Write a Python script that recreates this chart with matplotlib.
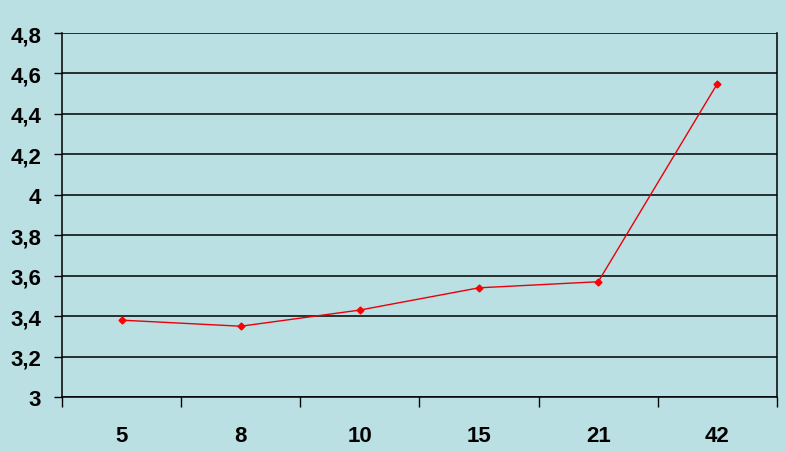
import matplotlib
matplotlib.use("Agg")
import matplotlib.pyplot as plt
from matplotlib.ticker import FixedLocator, FuncFormatter

categories = ["5", "8", "10", "15", "21", "42"]
values = [3.38, 3.35, 3.43, 3.54, 3.57, 4.55]
y_ticks = [3.0, 3.2, 3.4, 3.6, 3.8, 4.0, 4.2, 4.4, 4.6, 4.8]

bg = "#BBE0E3"
plt.rcParams["font.family"] = ["Liberation Sans", "DejaVu Sans"]

fig = plt.figure(figsize=(7.86, 4.52), dpi=100, facecolor=bg)
ax = fig.add_axes([62 / 786, 1 - 398 / 452, 715 / 786, 364 / 452])
ax.set_facecolor(bg)

x = list(range(len(categories)))
ax.plot(x, values, color="#E8000A", lw=1.0, marker="D", ms=3.5,
        mec="#FF0000", mfc="#FF0000", zorder=3)

ax.set_xlim(-0.5, len(categories) - 0.5)
ax.set_ylim(3.0, 4.8)

ax.set_yticks(y_ticks)
ax.yaxis.set_major_formatter(FuncFormatter(
    lambda v, p: ("%g" % round(v, 1)).replace(".", ",")))
ax.grid(axis="y", color="black", lw=1.1)
ax.set_axisbelow(True)

ax.set_xticks(x)
ax.set_xticklabels(categories)
ax.xaxis.set_minor_locator(FixedLocator([i - 0.5 for i in range(len(categories) + 1)]))
ax.tick_params(axis="x", which="major", length=0, pad=20, labelsize=16)
ax.tick_params(axis="x", which="minor", length=7, width=1, direction="out", color="black")
ax.tick_params(axis="y", length=6, width=1, pad=9, labelsize=16)
for lab in ax.get_xticklabels() + ax.get_yticklabels():
    lab.set_fontweight("bold")

ax.spines["top"].set_visible(False)
for s in ["left", "right", "bottom"]:
    ax.spines[s].set_color("black")
    ax.spines[s].set_linewidth(1.1)

fig.savefig("out.png", dpi=100, facecolor=bg)
